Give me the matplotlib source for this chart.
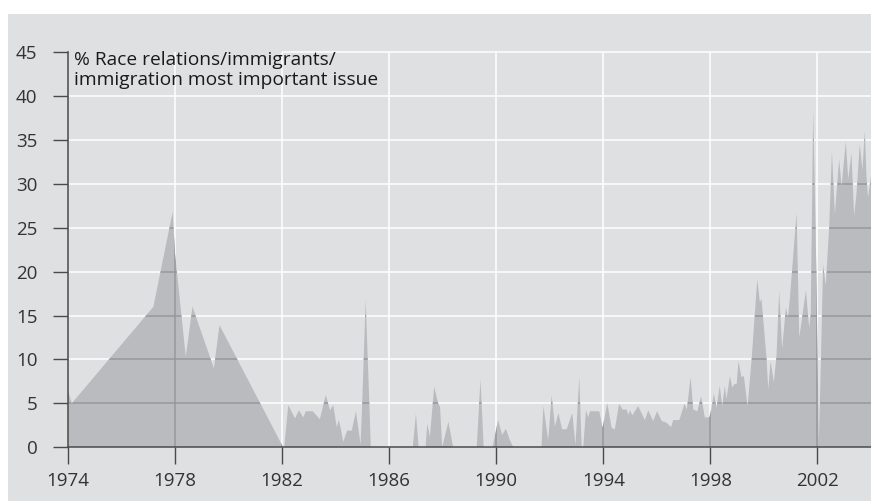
import matplotlib
matplotlib.use("Agg")
import matplotlib.pyplot as plt
from matplotlib.path import Path
from matplotlib.patches import Rectangle

# ---- data ----
years = [1974.00, 1974.14, 1977.19, 1977.91, 1978.00, 1978.40, 1978.65, 1979.45, 1979.66,
         1982.04, 1982.08, 1982.23, 1982.48, 1982.63, 1982.79, 1982.88, 1983.14, 1983.41,
         1983.63, 1983.79, 1983.91, 1984.04, 1984.12, 1984.20, 1984.28, 1984.43, 1984.60,
         1984.76, 1984.93, 1984.98, 1985.12, 1985.27, 1985.31,
         1986.88, 1987.00, 1987.10, 1987.36, 1987.42, 1987.52, 1987.68, 1987.83, 1987.90,
         1987.98, 1988.21, 1988.39, 1989.27, 1989.41, 1989.53, 1989.86, 1990.07, 1990.22,
         1990.36, 1990.51, 1990.64, 1991.69, 1991.76, 1991.94, 1992.07, 1992.19, 1992.32,
         1992.46, 1992.63, 1992.84, 1992.96, 1993.10, 1993.19, 1993.25, 1993.35, 1993.44,
         1993.50, 1993.85, 1993.97, 1994.15, 1994.31, 1994.43, 1994.59, 1994.72, 1994.87,
         1994.93, 1994.99, 1995.09, 1995.30, 1995.55, 1995.68, 1995.86, 1996.01, 1996.18,
         1996.36, 1996.53, 1996.61, 1996.84, 1997.03, 1997.12, 1997.26, 1997.36, 1997.51,
         1997.65, 1997.73, 1997.79, 1997.96, 1998.04, 1998.13, 1998.23, 1998.35, 1998.44,
         1998.54, 1998.60, 1998.73, 1998.82, 1998.89, 1998.98, 1999.05, 1999.16, 1999.25,
         1999.39, 1999.54, 1999.75, 1999.85, 1999.91, 2000.10, 2000.16, 2000.25, 2000.37,
         2000.47, 2000.57, 2000.68, 2000.82, 2000.90, 2000.97, 2001.22, 2001.32, 2001.41,
         2001.57, 2001.69, 2001.75, 2001.84, 2001.93, 2002.05, 2002.13, 2002.21, 2002.31,
         2002.44, 2002.54, 2002.65, 2002.81, 2002.90, 2003.06, 2003.15, 2003.27, 2003.37,
         2003.46, 2003.58, 2003.68, 2003.77, 2003.83, 2003.89, 2004.00]
values = [6.5, 5.0, 16.0, 26.8, 22.0, 10.3, 16.0, 9.0, 13.9,
          0.0, 0.0, 4.8, 3.3, 4.2, 3.4, 4.1, 4.1, 3.2,
          5.95, 4.2, 4.8, 2.3, 3.1, 2.0, 0.6, 1.9, 1.9,
          4.1, 0.3, 4.0, 16.8, 4.0, 0.0,
          0.0, 3.8, 0.0, 0.0, 2.7, 1.2, 6.9, 5.0, 4.6,
          0.0, 2.9, 0.0, 0.0, 7.7, 0.0, 0.0, 3.1, 1.4,
          2.1, 0.8, 0.0, 0.0, 4.7, 0.8, 5.95, 2.35, 3.9,
          2.05, 2.05, 3.9, 0.25, 8.0, 0.0, 0.0, 4.2, 3.4,
          4.1, 4.1, 2.2, 5.0, 2.2, 2.05, 4.95, 4.3, 4.3,
          3.7, 4.2, 3.65, 4.7, 3.1, 4.2, 3.0, 4.1, 3.0,
          2.8, 2.3, 3.1, 3.1, 4.95, 4.3, 8.0, 4.3, 4.1,
          5.8, 4.5, 3.4, 3.4, 4.4, 6.1, 4.5, 7.0, 4.7,
          7.0, 5.5, 8.1, 6.8, 7.2, 7.2, 9.8, 8.0, 8.1,
          4.7, 10.0, 19.1, 16.5, 16.9, 10.0, 6.6, 9.8, 7.4,
          10.4, 17.8, 11.2, 15.9, 14.8, 17.0, 26.7, 12.5, 14.4,
          17.9, 13.6, 15.3, 38.4, 25.2, 0.4, 10.0, 20.8, 18.4,
          25.2, 33.7, 26.5, 32.8, 29.7, 34.8, 30.5, 33.5, 26.3,
          29.0, 34.5, 31.6, 36.0, 30.9, 28.4, 30.9]

x_ticks = [1974, 1978, 1982, 1986, 1990, 1994, 1998, 2002]
y_ticks = [0, 5, 10, 15, 20, 25, 30, 35, 40, 45]
title_text = "% Race relations/immigrants/\nimmigration most important issue"

# ---- style ----
BG = "#dfe0e2"
FILL = "#babbbe"
GRID_IN = "#97989b"
AXIS = "#4a4a4a"
TXT = "#333333"
plt.rcParams['font.family'] = ['Open Sans', 'DejaVu Sans']

W, H = 871, 501
fig = plt.figure(figsize=(W / 100, H / 100), dpi=100)
fig.patch.set_facecolor("white")
fig.add_artist(Rectangle((8 / W, 0), 1 - 8 / W, (H - 14) / H, transform=fig.transFigure,
                         facecolor=BG, edgecolor="none", zorder=-10))

left, right = 68 / W, 1.0
bottom, top = (H - 447.3) / H, (H - 52) / H
ax = fig.add_axes([left, bottom, right - left, top - bottom])
ax.set_facecolor("none")
ax.set_xlim(1974, 2004)
ax.set_ylim(0, 45)

# white grid under fill
grid_lines = []
for yv in y_ticks[1:]:
    x0 = 1982 if yv == 45 else 1974
    grid_lines.append(((x0, 2004), (yv, yv)))
for xv in x_ticks[1:]:
    grid_lines.append(((xv, xv), (0, 45)))
for gx, gy in grid_lines:
    ax.plot(gx, gy, color="white", lw=1.1, zorder=1, solid_capstyle="butt", clip_on=False)

coll = ax.fill_between(years, values, 0, facecolor=FILL, edgecolor="none", lw=0, zorder=2)
paths = coll.get_paths()
clip = Path.make_compound_path(*paths)
for gx, gy in grid_lines:
    ln, = ax.plot(gx, gy, color=GRID_IN, lw=1.1, zorder=3, solid_capstyle="butt")
    ln.set_clip_path(clip, ax.transData)

# axes
for s in ["top", "right"]:
    ax.spines[s].set_visible(False)
for s in ["left", "bottom"]:
    ax.spines[s].set_color(AXIS)
    ax.spines[s].set_linewidth(1.1)
    ax.spines[s].set_zorder(4)
ax.set_xticks(x_ticks)
ax.set_yticks(y_ticks)
ax.set_xticklabels([str(v) for v in x_ticks])
ax.set_yticklabels([str(v) for v in y_ticks])
ax.tick_params(axis="y", direction="out", length=11, width=1.0, color=AXIS,
               labelcolor=TXT, labelsize=13.5, pad=11)
ax.tick_params(axis="x", direction="out", length=12.5, width=1.0, color=AXIS,
               labelcolor=TXT, labelsize=13.5, pad=5)

ax.text(1974.22, 45.15, title_text, ha="left", va="top", fontsize=13.8,
        color="#1a1a1a", zorder=5, linespacing=1.2)

fig.savefig("out.png", dpi=100)
